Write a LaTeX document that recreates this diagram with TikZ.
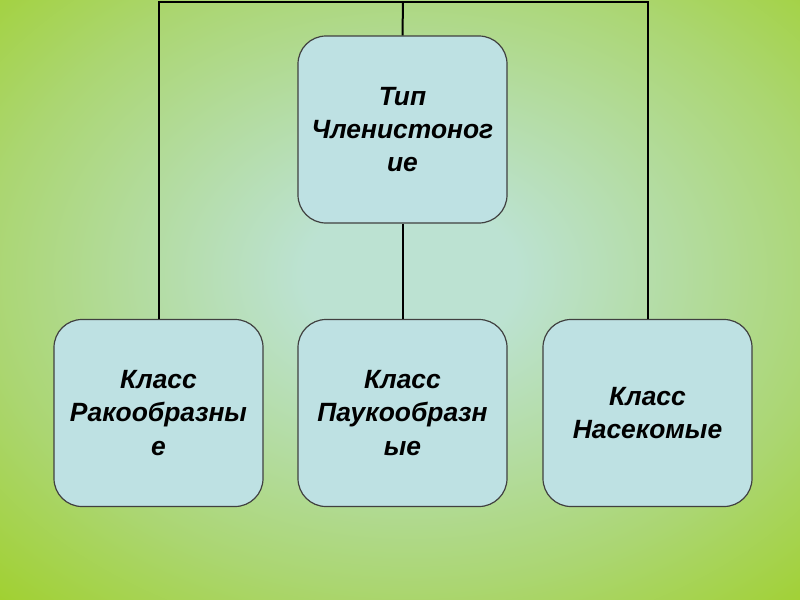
\documentclass[tikz,border=0pt]{standalone}
\usepackage{fontspec}
\setmainfont{Liberation Sans}
\usetikzlibrary{positioning}
\definecolor{cin}{HTML}{BCE2D2}
\definecolor{cmid}{HTML}{ABD672}
\definecolor{cout}{HTML}{99CC00}
\definecolor{boxfill}{HTML}{BEE1E3}
\definecolor{boxline}{HTML}{404040}
\pgfdeclareradialshading{bgshade}{\pgfpoint{0bp}{0bp}}{color(0bp)=(cin); color(6bp)=(cin); color(24bp)=(cmid); color(42bp)=(cout); color(100bp)=(cout)}
\tikzset{
  taxon/.style={draw=boxline, line width=0.9pt, fill=boxfill, rounded corners=21pt,
    minimum width=156.75pt, minimum height=140.25pt, inner sep=0pt,
    align=center, font=\fontsize{19.8}{25}\selectfont\bfseries\itshape},
  link/.style={draw=black, line width=1.5pt}
}
\begin{document}
\begin{tikzpicture}[x=0.75pt,y=-0.75pt]
\useasboundingbox (0,0) rectangle (800,600);
\shade[shading=bgshade] (-30,-50) rectangle (850,600);
\node[taxon] (top) at (402.5,129.5) {Тип\\Членистоног\\ие};
\node[taxon] (left) at (158.5,413) {Класс\\Ракообразны\\е};
\node[taxon] (mid) at (402.5,413) {Класс\\Паукообразн\\ые};
\node[taxon] (right) at (647.5,413) {Класс\\Насекомые};
\coordinate (tm) at (403,1.5);
\draw[link] (left.north) -- (left.north |- tm) -- (right.north |- tm) -- (right.north);
\draw[link] (tm) -- (top.north);
\draw[link] (top.south) -- (mid.north);
\end{tikzpicture}
\end{document}
